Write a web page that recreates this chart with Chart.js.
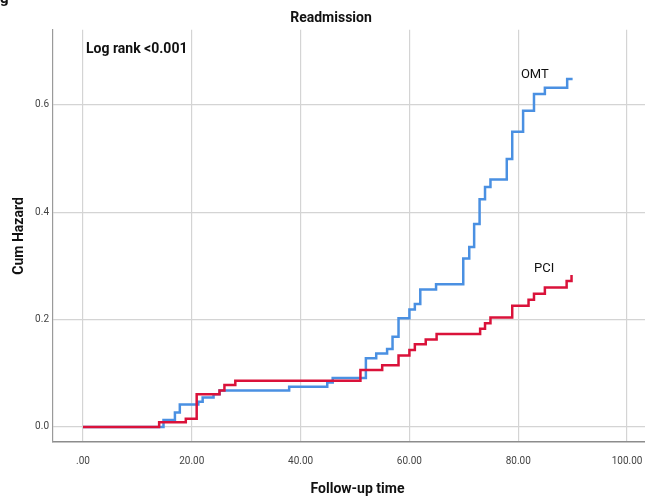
<!DOCTYPE html>
<html><head><meta charset="utf-8">
<script src="https://cdn.jsdelivr.net/npm/chart.js@4/dist/chart.umd.min.js"></script>
<style>
html,body{margin:0;padding:0;background:#fff;overflow:hidden;width:645px;height:496px}
#wrap{position:absolute;left:0;top:0;width:662px;height:496px}
</style>
</head><body>
<div id="wrap"><canvas id="c" width="662" height="496"></canvas></div>
<script>
// Follow-up times (event times) and cumulative hazard
const omtTimes  = [0, 14.8, 16.9, 17.8, 21.2, 22.0, 24.0, 25.1, 37.9, 44.9, 45.9, 52.0, 53.9, 55.9, 56.9, 58.0, 60.0, 61.0, 62.0, 64.9, 69.9, 71.0, 71.9, 72.9, 73.9, 74.9, 77.9, 78.9, 80.9, 82.9, 84.9, 89.0, 90.0];
const omtHazard = [0, 0.013, 0.027, 0.042, 0.047, 0.055, 0.061, 0.068, 0.075, 0.083, 0.091, 0.128, 0.137, 0.145, 0.168, 0.2025, 0.219, 0.229, 0.256, 0.266, 0.314, 0.335, 0.378, 0.424, 0.447, 0.461, 0.499, 0.55, 0.589, 0.62, 0.632, 0.648, 0.648];
const pciTimes  = [0, 14.0, 18.9, 20.9, 25.1, 26.0, 28.0, 51.0, 55.0, 58.0, 60.0, 61.0, 63.0, 65.0, 73.0, 73.9, 74.9, 78.9, 81.9, 82.9, 84.9, 88.9, 89.8];
const pciHazard = [0, 0.009, 0.0155, 0.061, 0.068, 0.078, 0.086, 0.106, 0.115, 0.133, 0.1435, 0.154, 0.163, 0.173, 0.183, 0.193, 0.204, 0.226, 0.237, 0.248, 0.26, 0.272, 0.283];
const xTickValues = [0, 20, 40, 60, 80, 100];
const xTickLabels = ['.00', '20.00', '40.00', '60.00', '80.00', '100.00'];
const yTickValues = [0, 0.2, 0.4, 0.6];
const yTickLabels = ['0.0', '0.2', '0.4', '0.6'];

const FONT = "Roboto,'Liberation Sans',sans-serif";

const annot = {
  id: 'annot',
  afterDraw(chart) {
    const {ctx, scales: {x, y}} = chart;
    ctx.save();
    ctx.fillStyle = '#111';
    ctx.textAlign = 'left';
    ctx.textBaseline = 'middle';
    ctx.font = 'bold 14px ' + FONT;
    ctx.fillText('Log rank <0.001', x.getPixelForValue(0.55), y.getPixelForValue(0.7025));
    ctx.font = '13px ' + FONT;
    ctx.fillText('OMT', x.getPixelForValue(80.5), y.getPixelForValue(0.656));
    ctx.fillText('PCI', x.getPixelForValue(82.9), y.getPixelForValue(0.2944));
    ctx.font = 'bold 15px ' + FONT;
    ctx.textBaseline = 'alphabetic';
    ctx.fillText('g', 0, 3);
    ctx.restore();
  }
};

new Chart(document.getElementById('c'), {
  type: 'line',
  data: {
    datasets: [
      {
        label: 'PCI',
        data: pciTimes.map((t, i) => ({x: t, y: pciHazard[i]})),
        borderColor: 'rgb(218,18,58)',
        borderWidth: 2.5,
        pointRadius: 0,
        stepped: true,
        fill: false
      },
      {
        label: 'OMT',
        data: omtTimes.map((t, i) => ({x: t, y: omtHazard[i]})),
        borderColor: 'rgb(74,144,226)',
        borderWidth: 2.5,
        pointRadius: 0,
        stepped: true,
        fill: false
      }
    ]
  },
  options: {
    responsive: false,
    animation: false,
    devicePixelRatio: 1,
    layout: {padding: 0},
    plugins: {
      legend: {display: false},
      tooltip: {enabled: false},
      title: {
        display: true,
        text: 'Readmission',
        color: '#111',
        font: {family: FONT, size: 14, weight: 'bold', lineHeight: 1.2},
        padding: {top: 10, bottom: 3}
      }
    },
    scales: {
      x: {
        type: 'linear',
        min: -5.51,
        max: 106.43,
        afterBuildTicks: s => { s.ticks = xTickValues.map(v => ({value: v})); },
        afterFit: s => { s.height = 54; },
        ticks: {
          callback: v => { const i = xTickValues.indexOf(v); return i >= 0 ? xTickLabels[i] : ''; },
          color: '#444',
          font: {family: FONT, size: 10},
          padding: 13,
          maxRotation: 0,
          autoSkip: false
        },
        grid: {color: '#d4d4d4', lineWidth: 1.2, drawTicks: false},
        border: {display: true, color: '#8c8c8c', width: 1.5},
        title: {
          display: true,
          text: 'Follow-up time',
          color: '#111',
          font: {family: FONT, size: 14, weight: 'bold', lineHeight: 1},
          padding: {top: 0, bottom: 0}
        }
      },
      y: {
        type: 'linear',
        min: -0.028,
        max: 0.7398,
        afterBuildTicks: s => { s.ticks = yTickValues.map(v => ({value: v})); },
        afterFit: s => { s.width = 53; },
        ticks: {
          callback: v => { const i = yTickValues.indexOf(v); return i >= 0 ? yTickLabels[i] : ''; },
          color: '#444',
          font: {family: FONT, size: 10},
          padding: 4,
          autoSkip: false
        },
        grid: {color: '#d4d4d4', lineWidth: 1.2, drawTicks: false},
        border: {display: true, color: '#9a9a9a', width: 1.2},
        title: {
          display: true,
          text: 'Cum Hazard',
          color: '#111',
          font: {family: FONT, size: 14, weight: 'bold', lineHeight: 1.2},
          padding: {top: 11, bottom: 0}
        }
      }
    }
  },
  plugins: [annot]
});
</script>
</body></html>
